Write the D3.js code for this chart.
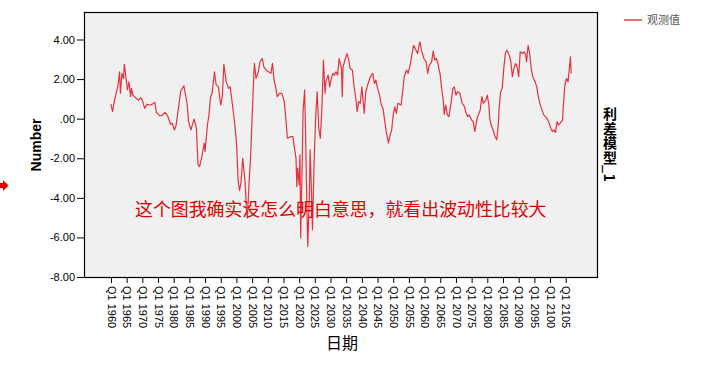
<!DOCTYPE html>
<html>
<head>
<meta charset="utf-8">
<script src="https://cdn.jsdelivr.net/npm/d3@7"></script>
<style>
  body { margin: 0; background: #fff; }
  text { font-family: "Liberation Sans", Arial, sans-serif; }
  .cjk { font-family: "Noto Sans CJK SC", sans-serif; }
</style>
</head>
<body>
<div id="chart"></div>
<script>
var svgWidth = 726;
var svgHeight = 366;

// plot box (SPSS style grey panel)
var plot = { left: 84, top: 12, right: 597, bottom: 277 };

// quarters counted from Q1 1960, and the observed spread at those quarters
var quarters = [0,2,4,7,9,11,12,14,16,17,19,21,23,25,26,28,32,35,38,40,43,46,50,54,56,58,62,65,69,72,
  76,78,81,83,86,89,93,97,99,102,106,109,111,113,116,119,120,123,125,127,129,132,134,137,140,142,144,147,150,152,
  155,158,160,161,162,164,166,168,171,173,174,176,178,180,182,183,185,188,190,193,195,198,201,204,206,208,210,212,215,218,
  221,223,225,229,232,234,236,237,238,240,241,242,244,245,247,248,250,251,253,254,256,257,259,261,263,265,267,269,271,273,
  274,277,279,281,283,285,287,289,291,294,295,296,299,301,303,305,308,310,312,314,316,318,320,323,325,328,330,332,334,336,
  338,340,342,345,347,349,351,354,356,358,360,362,364,366,370,372,374,377,379,382,384,386,388,391,393,394,396,399,402,404,
  406,409,411,413,415,417,420,422,424,425,427,429,431,434,436,438,440,442,445,448,451,453,455,457,460,462,464,467,471,473,
  475,478,480,482,483,485,488,490,492,494,495,497,499,501,503,505,508,510,512,514,516,518,520,522,525,527,529,530,532,534,
  536,538,541,543,545,547,549,552,554,556,559,561,563,565,567,569,571,573,576,577,579,581,583,585,586,587];
var values = [0.74,0.35,0.83,1.36,1.70,2.37,1.28,2.29,2.03,2.74,2.12,1.45,1.86,1.11,1.53,1.19,1.03,0.94,1.06,0.94,0.52,0.72,0.69,0.76,0.82,0.32,0.15,0.17,0.32,0.17,
  -0.28,-0.23,-0.57,-0.35,0.52,1.40,1.66,0.78,-0.15,-0.57,-0.02,-0.48,-2.33,-2.42,-1.91,-1.24,-1.66,-0.32,0.19,1.11,1.28,2.37,1.73,1.61,0.69,1.11,2.74,1.86,1.53,1.61,
  0.69,-0.32,-1.16,-2.00,-3.09,-3.64,-3.17,-2.00,-3.17,-4.69,-5.02,-3.34,-2.00,0.02,2.03,2.79,2.03,2.37,2.87,3.04,2.62,2.45,2.37,2.29,2.79,1.95,1.61,1.11,1.28,1.28,
  0.86,0.02,-0.99,-0.91,-0.91,-1.49,-2.00,-3.43,-2.50,-3.34,-1.83,-6.03,-2.00,0.35,1.45,-0.32,-4.69,-6.45,-4.01,-1.58,-4.01,-5.61,-2.33,0.02,1.36,-0.48,-0.99,0.52,2.96,1.28,
  1.86,2.20,1.61,2.03,2.29,2.20,2.37,2.20,3.04,2.54,1.11,2.62,3.04,3.29,3.04,2.54,2.45,1.61,1.11,0.35,0.86,0.78,1.61,0.27,1.36,1.78,2.03,2.20,2.29,1.78,
  1.95,1.53,1.28,0.69,0.52,-0.07,-0.65,-1.24,-0.82,-0.57,0.19,0.60,0.27,0.78,0.69,1.36,2.12,2.45,2.29,2.79,3.29,3.71,3.54,3.29,3.71,3.88,3.46,3.04,2.87,2.29,
  2.70,2.87,3.41,2.96,3.04,2.79,2.20,1.44,0.86,0.22,0.69,0.19,0.10,0.86,1.53,1.61,1.19,1.36,1.28,0.78,0.60,0.27,0.10,0.19,-0.07,-0.15,-0.65,0.02,0.44,1.11,
  0.78,0.94,1.19,0.69,0.02,-0.32,-0.65,-0.91,-1.07,-0.32,0.52,1.36,1.53,2.54,3.29,3.46,3.21,2.87,2.12,2.54,2.79,2.62,2.12,3.38,3.29,3.38,3.21,2.87,3.71,3.29,
  2.54,2.12,1.86,1.61,1.11,0.78,0.52,0.19,0.10,0.02,-0.23,-0.48,-0.65,-0.57,-0.69,-0.15,-0.32,-0.23,-0.07,0.69,1.70,2.03,1.86,2.70,3.12,2.29];

// axis ticks
var xTickQuarters = d3.range(0, 581, 20);
var yTicks = [4, 2, 0, -2, -4, -6, -8];

var seriesName = "观测值";
var modelName = "利差模型_1";
var note = "这个图我确实没怎么明白意思，就看出波动性比较大";

var data = quarters.map(function(q, i) { return { q: q, v: values[i] }; });

var svg = d3.select("#chart")
    .append("svg")
    .attr("width", svgWidth)
    .attr("height", svgHeight);

// scales
var xScale = d3.scaleLinear()
    .domain([-34.4, 619.9])
    .range([plot.left, plot.right]);

var yScale = d3.scaleLinear()
    .domain([-8, 5.39])
    .range([plot.bottom, plot.top]);

// grey panel
svg.append("rect")
    .attr("x", plot.left)
    .attr("y", plot.top)
    .attr("width", plot.right - plot.left)
    .attr("height", plot.bottom - plot.top)
    .attr("fill", "#f0f0f0")
    .attr("stroke", "none");

// y axis
var yAxis = d3.axisLeft(yScale)
    .tickValues(yTicks)
    .tickSize(7)
    .tickPadding(2)
    .tickFormat(function(d) { return d === 0 ? ".00" : d3.format(".2f")(d).replace("−", "-"); });

var yG = svg.append("g")
    .attr("transform", `translate(${plot.left}, 0)`)
    .call(yAxis);
yG.select(".domain").remove();
yG.selectAll("line").attr("stroke", "#000");
yG.selectAll("text")
    .attr("fill", "#000")
    .style("font-size", "11px");

// x axis
var xAxis = d3.axisBottom(xScale)
    .tickValues(xTickQuarters)
    .tickSize(6)
    .tickFormat(function(q) { return "Q1 " + (1960 + q / 4); });

var xG = svg.append("g")
    .attr("transform", `translate(0, ${plot.bottom})`)
    .call(xAxis);
xG.select(".domain").remove();
xG.selectAll("line").attr("stroke", "#000");
xG.selectAll("text")
    .attr("fill", "#000")
    .style("font-size", "11px")
    .attr("transform", "rotate(90)")
    .attr("x", 9)
    .attr("y", 0)
    .attr("dy", ".35em")
    .style("text-anchor", "start");

// observed line
var line = d3.line()
    .x(d => xScale(d.q))
    .y(d => yScale(d.v));

svg.append("path")
    .datum(data)
    .attr("d", line)
    .attr("fill", "none")
    .attr("stroke", "#e6323c")
    .attr("stroke-width", 1.2)
    .attr("stroke-linejoin", "round");

// panel border on top
svg.append("rect")
    .attr("x", plot.left + 0.5)
    .attr("y", plot.top + 0.5)
    .attr("width", plot.right - plot.left)
    .attr("height", plot.bottom - plot.top)
    .attr("fill", "none")
    .attr("stroke", "#000")
    .attr("stroke-width", 1.2);

// axis titles
svg.append("text")
    .attr("transform", "translate(41, 145) rotate(-90)")
    .attr("text-anchor", "middle")
    .style("font-size", "14px")
    .style("font-weight", "bold")
    .text("Number");

svg.append("text")
    .attr("class", "cjk")
    .attr("x", 342)
    .attr("y", 349)
    .attr("text-anchor", "middle")
    .style("font-size", "16px")
    .text("日期");

// legend
svg.append("line")
    .attr("x1", 624).attr("x2", 642)
    .attr("y1", 20).attr("y2", 20)
    .attr("stroke", "#e6323c")
    .attr("stroke-width", 1.4);

svg.append("text")
    .attr("class", "cjk")
    .attr("x", 647)
    .attr("y", 24)
    .attr("fill", "#555")
    .style("font-size", "11px")
    .text(seriesName);

// model name, vertical writing
svg.append("text")
    .attr("class", "cjk")
    .attr("x", 610)
    .attr("y", 107)
    .style("writing-mode", "vertical-rl")
    .style("font-size", "14px")
    .style("letter-spacing", "0.5px")
    .style("font-weight", "bold")
    .text(modelName);

// red note over the panel
svg.append("text")
    .attr("class", "cjk")
    .attr("x", 135)
    .attr("y", 216)
    .attr("fill", "#e00000")
    .style("font-size", "17.9px")
    .text(note);

// red marker arrow at the left edge
svg.append("path")
    .attr("d", "M0,183 L3,183 L3,180 L8.5,185.5 L3,191 L3,188 L0,188 Z")
    .attr("fill", "#e00000");
</script>
</body>
</html>
